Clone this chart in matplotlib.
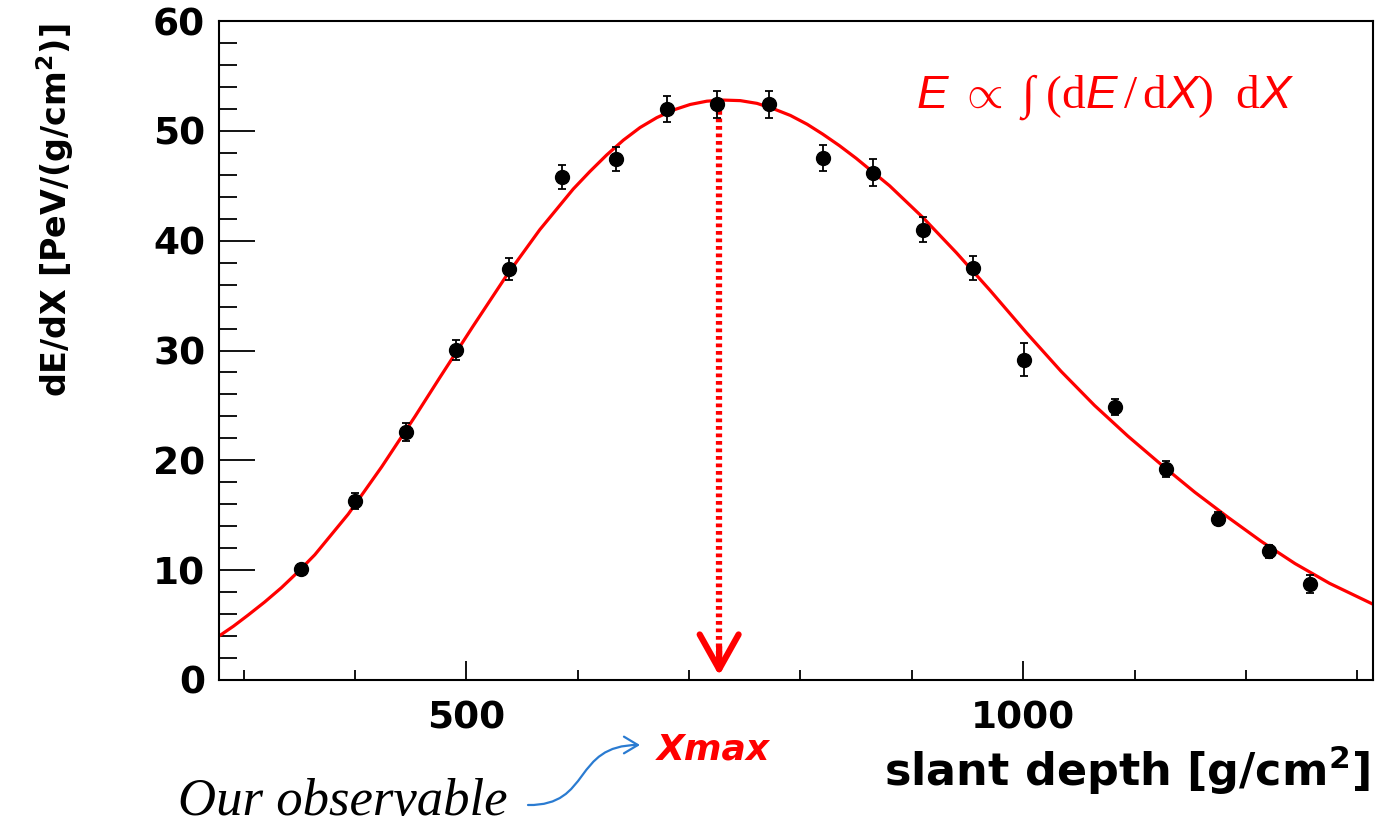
import matplotlib.pyplot as plt
from matplotlib.patches import FancyArrowPatch
from matplotlib.path import Path
from matplotlib.ticker import MultipleLocator

plt.rcParams['mathtext.fontset'] = 'custom'
plt.rcParams['mathtext.rm'] = 'Liberation Serif'
plt.rcParams['mathtext.it'] = 'Liberation Sans:italic'
plt.rcParams['mathtext.bf'] = 'DejaVu Sans:bold'

# measured points (slant depth, dE/dX, error)
depth = [352, 400, 446, 491, 538, 586, 634, 680, 725, 772,
         820, 865, 910, 955, 1001, 1082, 1128, 1175, 1221, 1257]
dedx = [10.1, 16.3, 22.6, 30.05, 37.4, 45.8, 47.45, 52.0, 52.4, 52.4,
        47.5, 46.2, 41.0, 37.5, 29.15, 24.85, 19.2, 14.7, 11.7, 8.75]
dedx_err = [0.5, 0.7, 0.8, 0.95, 1.0, 1.1, 1.1, 1.2, 1.2, 1.2,
            1.2, 1.2, 1.15, 1.1, 1.5, 0.76, 0.7, 0.6, 0.6, 0.85]

# fitted profile
fit_x = [278, 291, 304, 319, 334, 349, 364, 394, 424, 454, 476, 506, 536, 566,
         596, 611, 626, 641, 656, 671, 686, 701, 716, 731, 746, 761, 776, 791,
         806, 820, 835, 850, 880, 910, 940, 970, 1003, 1034, 1064, 1094, 1124,
         1154, 1184, 1214, 1244, 1275, 1314]
fit_y = [4.0, 4.9, 5.9, 7.1, 8.4, 9.85, 11.4, 15.1, 19.4, 24.0, 27.5, 32.2,
         36.8, 41.0, 44.7, 46.3, 47.8, 49.15, 50.3, 51.2, 51.9, 52.4, 52.7,
         52.8, 52.75, 52.5, 52.0, 51.4, 50.6, 49.7, 48.65, 47.5, 45.0, 42.1,
         38.9, 35.5, 31.6, 28.1, 25.0, 22.2, 19.6, 17.1, 14.8, 12.6, 10.6, 8.8, 6.9]

xmax_depth = 727
xmax_top = 51.8

fig = plt.figure(figsize=(13.79, 8.27), dpi=100)
ax = fig.add_axes([219/1379, 1-680/827, 1154/1379, 659/827])

ax.plot(fit_x, fit_y, color='red', lw=2.3, solid_joinstyle='round', zorder=2)
ax.errorbar(depth, dedx, yerr=dedx_err, fmt='o', color='black', ms=10,
            capsize=3, elinewidth=1.3, capthick=1.3, zorder=3)

# dotted Xmax arrow
ax.plot([xmax_depth, xmax_depth], [xmax_top, 0.6], color='red', lw=4.5,
        ls=(0, (0.6, 0.6)), dash_capstyle='butt', zorder=2)
ax.annotate('', xy=(xmax_depth, 0.4), xytext=(xmax_depth, 3.0),
            arrowprops=dict(arrowstyle='->,head_length=1.25,head_width=0.7',
                            color='red', lw=4.5, mutation_scale=20,
                            shrinkA=0, shrinkB=0))

ax.set_xlim(278, 1314)
ax.set_ylim(0, 60)
ax.xaxis.set_major_locator(MultipleLocator(500))
ax.xaxis.set_minor_locator(MultipleLocator(100))
ax.yaxis.set_major_locator(MultipleLocator(10))
ax.yaxis.set_minor_locator(MultipleLocator(2))
ax.tick_params(axis='both', which='both', direction='in', width=1.3,
               top=False, right=False)
ax.tick_params(axis='y', which='major', length=26, pad=10)
ax.tick_params(axis='y', which='minor', length=13)
ax.tick_params(axis='x', which='major', length=14, pad=15)
ax.tick_params(axis='x', which='minor', length=7)
for lab in ax.get_xticklabels() + ax.get_yticklabels():
    lab.set_fontsize(27)
    lab.set_fontweight('bold')
for sp in ax.spines.values():
    sp.set_linewidth(1.5)

ax.text(0.768, 0.885,
        r'$E\;\propto\;\int\;(\mathrm{d}E\,/\,\mathrm{d}X)\;\;\mathrm{d}X$',
        transform=ax.transAxes, color='red', fontsize=34, ha='center', va='center')

fig.text(55/1379, 1-24/827, r'dE/dX [PeV/(g/cm$^\mathbf{2}$)]', rotation=90,
         ha='center', va='top', fontsize=24, fontweight='bold')
fig.text(1370/1379, 1-770/827, r'slant depth [g/cm$^\mathbf{2}$]',
         ha='right', va='center', fontsize=32, fontweight='bold')
fig.text(713/1379, 1-750/827, 'Xmax', color='red', ha='center', va='center',
         fontsize=26, fontweight='bold', fontstyle='italic')
fig.text(178/1379, 1-802/827, 'Our observable', ha='left', va='center',
         fontsize=38, family='Liberation Serif', fontstyle='italic')

# blue curly arrow from the note to Xmax
verts = [(528, 805), (592, 806), (572, 745), (640, 745)]
verts = [(vx, 827 - vy) for vx, vy in verts]
path = Path(verts, [Path.MOVETO, Path.CURVE4, Path.CURVE4, Path.CURVE4])
arr = FancyArrowPatch(path=path, arrowstyle='->,head_length=10,head_width=6',
                      color='#2a7bd1', lw=1.6, transform=None)
fig.patches.append(arr)

fig.savefig('out.png', dpi=100)
